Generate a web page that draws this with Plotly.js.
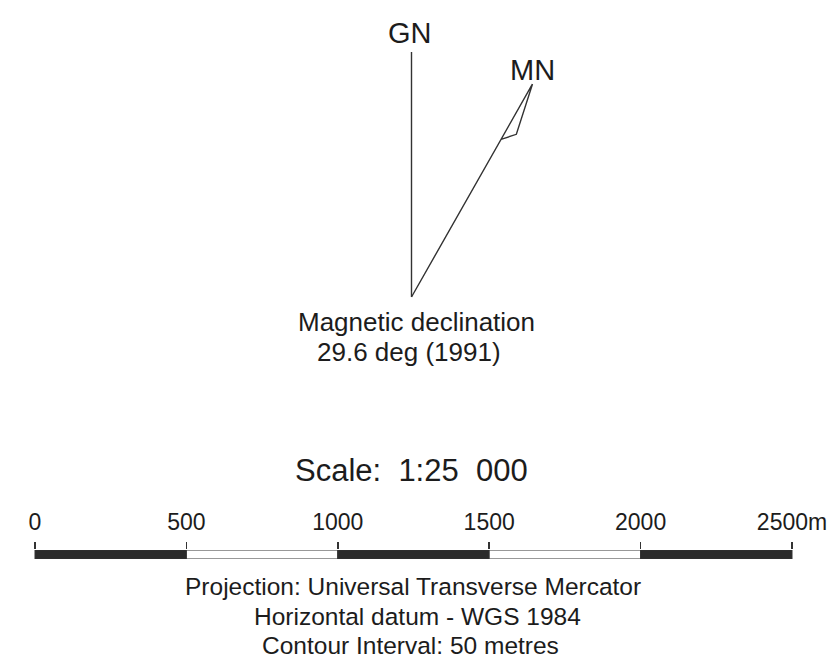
<!DOCTYPE html>
<html><head><meta charset="utf-8">
<script src="https://cdn.plot.ly/plotly-3.0.1.min.js"></script>
<style>html,body{margin:0;padding:0;background:#fff}</style>
</head><body><div id="chart" style="width:834px;height:666px"></div>
<script>
// ---- data ----
const scaleDistances = [0, 500, 1000, 1500, 2000, 2500];
const scaleTickLabels = ['0', '500', '1000', '1500', '2000', '2500m'];
const segmentShades = ['dark', 'light', 'dark', 'light', 'dark'];
const declinationDeg = 29.6;
const declinationYear = 1991;
const northLabels = ['GN', 'MN'];
const scaleRatio = '1:25 000';
const notes = ['Projection: Universal Transverse Mercator',
               'Horizontal datum - WGS 1984',
               'Contour Interval: 50 metres'];

// ---- layout helpers ----
const W = 834, H = 666;
const px = x => x / W;
const py = y => 1 - y / H;
const ink = '#1c1c1c';
const FONT = 'Liberation Sans, Arial, Helvetica, sans-serif';
const NB = '\u00a0';

const starts = scaleDistances.slice(0, -1);
const widths = starts.map((s, i) => scaleDistances[i + 1] - s);
const fills = segmentShades.map(s => s === 'dark' ? '#2b2b2b' : '#ffffff');

// scale bar axis mapping: 0 -> 35px, 2500 -> 792px
const pxPerUnit = (792 - 35) / (scaleDistances[scaleDistances.length - 1] - scaleDistances[0]);
const xr = [scaleDistances[0] - 35 / pxPerUnit, scaleDistances[scaleDistances.length - 1] + (W - 792) / pxPerUnit];

const traces = [
  {
    type: 'bar', orientation: 'h',
    y: starts.map(() => 'scale'), x: widths, base: starts,
    width: 1,
    marker: { color: fills, line: { color: '#333333', width: 1 } },
    xaxis: 'x', yaxis: 'y', hoverinfo: 'skip', showlegend: false
  },
  {
    type: 'scatterpolar', subplot: 'polar', mode: 'lines',
    r: [0, 1], theta: [0, 0],
    line: { color: '#333333', width: 1.4 }, showlegend: false, hoverinfo: 'skip'
  },
  {
    type: 'scatterpolar', subplot: 'polar', mode: 'lines',
    r: [0, 1, 0.79, 0.74],
    theta: [declinationDeg, declinationDeg, declinationDeg + 3.2, declinationDeg],
    line: { color: '#333333', width: 1.4 }, showlegend: false, hoverinfo: 'skip'
  }
];

const cx = 411.5, cy = 297, R = 245;

const ann = (text, x, y, size) => ({
  text: text, xref: 'paper', yref: 'paper', x: px(x), y: py(y),
  xanchor: 'center', yanchor: 'middle', showarrow: false,
  font: { family: FONT, size: size, color: ink }
});

const annotations = [
  ann(northLabels[0], 409.5, 33, 29),
  ann(northLabels[1], 532.5, 70, 29),
  ann('Magnetic declination', 416.5, 322, 26),
  ann(declinationDeg.toFixed(1) + ' deg (' + declinationYear + ')', 409, 351.5, 26),
  ann('Scale:' + NB + NB + scaleRatio.replace(' ', NB + NB), 411.5, 470, 31),
  ann(notes[0], 413, 586.5, 24.5),
  ann(notes[1], 417, 616.5, 24.5),
  ann(notes[2], 410, 645, 24.5)
];

const layout = {
  width: W, height: H,
  margin: { l: 0, r: 0, t: 0, b: 0, pad: 0 },
  paper_bgcolor: '#ffffff', plot_bgcolor: 'rgba(0,0,0,0)',
  showlegend: false,
  xaxis: {
    domain: [0, 1], range: xr, side: 'top', anchor: 'y',
    showgrid: false, zeroline: false, showline: false,
    tickmode: 'array', tickvals: scaleDistances, ticktext: scaleTickLabels,
    ticks: 'outside', ticklen: 7, tickwidth: 1.5, tickcolor: '#333333',
    ticklabelstandoff: 3,
    tickfont: { family: FONT, size: 23, color: ink },
    fixedrange: true
  },
  yaxis: {
    domain: [py(559), py(550)], type: 'category', range: [-0.5, 0.5],
    visible: false, fixedrange: true
  },
  polar: {
    domain: { x: [px(cx - R), px(cx + R)], y: [py(cy + R), py(cy - R)] },
    bgcolor: 'rgba(0,0,0,0)',
    angularaxis: { rotation: 90, direction: 'clockwise', visible: false, showgrid: false, showline: false, ticks: '' },
    radialaxis: { range: [0, 1], visible: false, showgrid: false, showline: false, ticks: '' }
  },
  annotations: annotations
};

Plotly.newPlot('chart', traces, layout, { staticPlot: true, displayModeBar: false });
</script>
</body></html>
